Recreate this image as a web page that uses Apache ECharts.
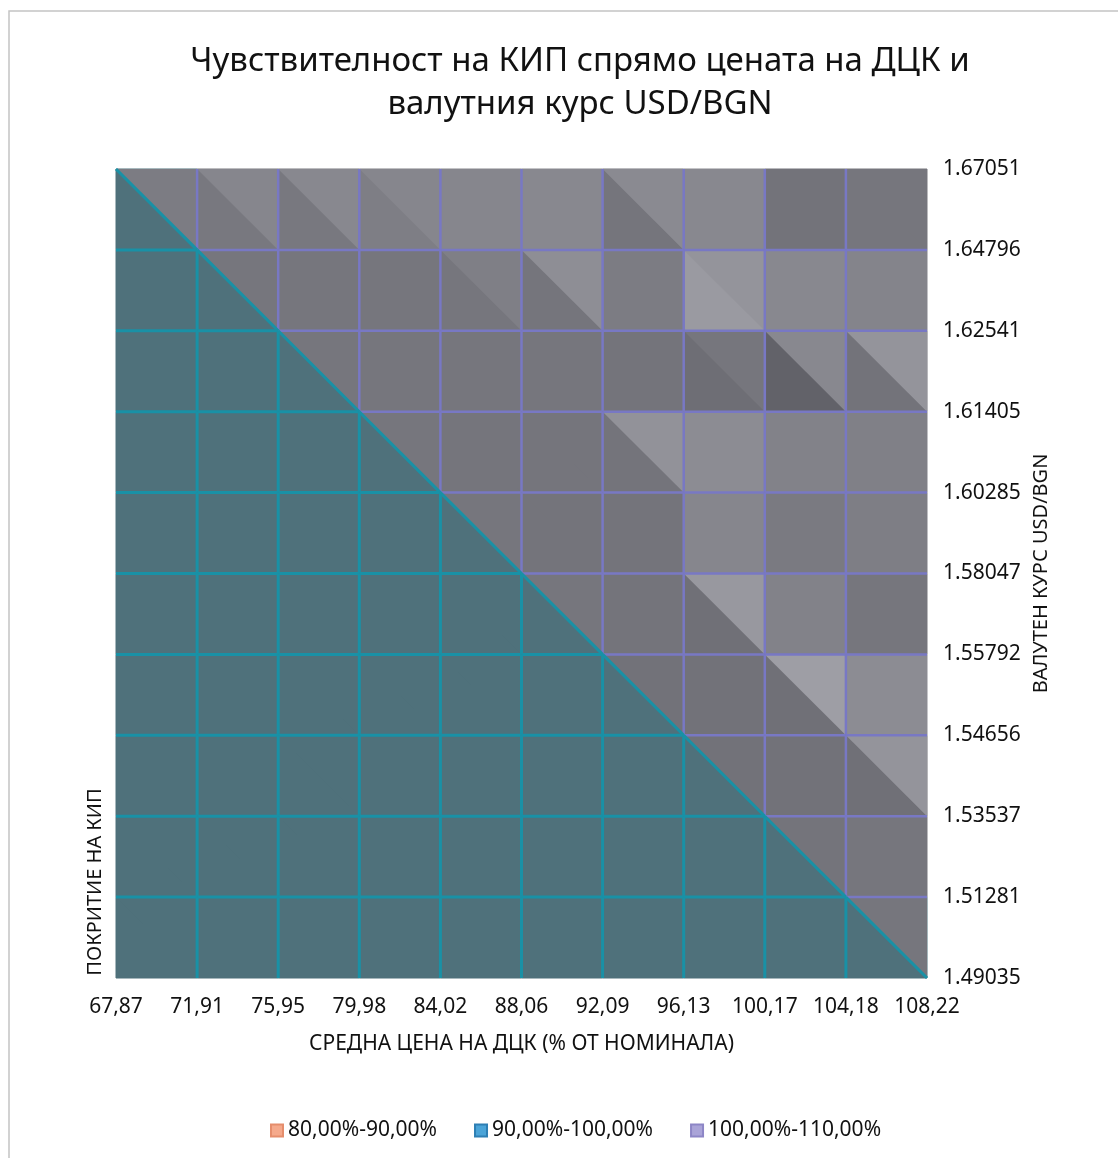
<!DOCTYPE html>
<html>
<head>
<meta charset="utf-8">
<script src="https://cdn.jsdelivr.net/npm/echarts@6/dist/echarts.min.js"></script>
<style>
html,body{margin:0;padding:0;background:#fff;}
#chart{width:1118px;height:1158px;}
</style>
</head>
<body>
<div id="chart"></div>
<script>
// X axis: average price of government securities (% of nominal)
const xLabels = ['67,87','71,91','75,95','79,98','84,02','88,06','92,09','96,13','100,17','104,18','108,22'];
// Y axis: USD/BGN exchange rate, bottom to top
const yLabels = ['1.49035','1.51281','1.53537','1.54656','1.55792','1.58047','1.60285','1.61405','1.62541','1.64796','1.67051'];
// Legend bands
const bandNames = ['80,00%-90,00%','90,00%-100,00%','100,00%-110,00%'];
// Coverage (%) per cell facet, rows from top (1.67051) to bottom, columns left to right
// upper-right facet of each cell
const upperTri = [
  [104.4,105.9,106.3,105.9,105.9,106.3,106.6,106.3,103.0,103.4],
  [95,103.4,103.4,103.4,104.8,107.2,104.4,108.1,106.3,105.6],
  [95,95,103.4,103.4,103.4,103.4,103.1,103.4,106.3,108.1],
  [95,95,95,103.4,103.3,103.3,107.8,106.9,105.3,105.0],
  [95,95,95,95,103.4,103.1,103.1,105.9,104.1,104.7],
  [95,95,95,95,95,103.4,103.1,108.8,105.3,103.4],
  [95,95,95,95,95,95,102.8,102.8,109.7,106.9],
  [95,95,95,95,95,95,95,102.8,102.8,108.1],
  [95,95,95,95,95,95,95,95,103.1,103.4],
  [95,95,95,95,95,95,95,95,95,103.4]
];
// lower-left facet of each cell
const lowerTri = [
  [95,103.8,103.8,104.7,105.9,106.3,103.3,106.3,103.0,103.4],
  [95,95,103.4,103.4,103.4,103.3,104.4,109.1,106.3,105.6],
  [95,95,95,103.4,103.4,103.4,103.1,102.2,100.3,103.0],
  [95,95,95,95,103.3,103.3,103.1,106.9,105.3,105.0],
  [95,95,95,95,95,103.1,103.1,105.9,104.1,104.7],
  [95,95,95,95,95,95,103.1,102.5,105.3,103.4],
  [95,95,95,95,95,95,95,102.8,102.5,106.9],
  [95,95,95,95,95,95,95,95,102.8,102.5],
  [95,95,95,95,95,95,95,95,95,103.4],
  [95,95,95,95,95,95,95,95,95,95]
];

const FONT = 'Noto Sans';
const TXT = '#111111';
const nRows = upperTri.length, nCols = upperTri[0].length;

function band(v){ return v < 90 ? 0 : (v < 100 ? 1 : 2); }
function facetColor(v){
  const b = band(v);
  if (b === 1) return '#4f717b';
  if (b === 0) return '#c98a70';
  const t = Math.max(0, Math.min(1, (v - 100) / 10));
  const L = Math.round(96 + t * 64);
  return 'rgb(' + L + ',' + L + ',' + (L + 7) + ')';
}

const triData = [[],[],[]];
const cellData = [];
for (let r = 0; r < nRows; r++) {
  for (let c = 0; c < nCols; c++) {
    triData[band(lowerTri[r][c])].push([c, r, 1, lowerTri[r][c]]);
    triData[band(upperTri[r][c])].push([c, r, 0, upperTri[r][c]]);
    cellData.push([c, r]);
  }
}

function corners(api, c, r){
  return {
    TL: api.coord([c, nRows - r]),
    TR: api.coord([c + 1, nRows - r]),
    BL: api.coord([c, nRows - 1 - r]),
    BR: api.coord([c + 1, nRows - 1 - r])
  };
}

// lower-left facet is painted as the whole cell, upper-right facet on top of it (no seams)
function triRender(params, api){
  const c = api.value(0), r = api.value(1), part = api.value(2), v = api.value(3);
  const p = corners(api, c, r);
  const col = facetColor(v);
  if (part === 1) {
    return { type: 'polygon', z2: 0, shape: { points: [p.TL, p.TR, p.BR, p.BL] }, style: { fill: col, stroke: col, lineWidth: 1 } };
  }
  return { type: 'polygon', z2: 1, shape: { points: [p.TL, p.TR, p.BR] }, style: { fill: col } };
}

const lineStyles = {
  0: { stroke: '#e0906f', lineWidth: 3, z2: 2 },
  1: { stroke: '#1991a6', lineWidth: 3, z2: 3 },
  2: { stroke: '#7878c4', lineWidth: 2.5, z2: 1 }
};
function seg(a, b, bd){
  const s = lineStyles[bd];
  return { type: 'line', z2: s.z2, shape: { x1: a[0], y1: a[1], x2: b[0], y2: b[1] }, style: { stroke: s.stroke, lineWidth: s.lineWidth } };
}
function wireRender(params, api){
  const c = api.value(0), r = api.value(1);
  const p = corners(api, c, r);
  const ub = band(upperTri[r][c]), lb = band(lowerTri[r][c]);
  const children = [];
  if (r > 0) children.push(seg(p.TL, p.TR, ub));
  if (c > 0) children.push(seg(p.TL, p.BL, lb));
  if (ub !== lb) children.push(seg(p.TL, p.BR, Math.min(ub, lb)));
  return { type: 'group', children };
}

const legendColors = [
  { color: '#f5a98b', borderColor: '#e58d6c' },
  { color: '#4ba4d8', borderColor: '#2e7fb4' },
  { color: '#aaa4d8', borderColor: '#8d86c6' }
];

const chart = echarts.init(document.getElementById('chart'));
chart.setOption({
  backgroundColor: '#fff',
  animation: false,
  title: {
    text: 'Чувствителност на КИП спрямо цената на ДЦК и\nвалутния курс USD/BGN',
    left: 575, top: 35, textAlign: 'center',
    textStyle: { fontFamily: FONT, fontSize: 33, fontWeight: 'normal', color: TXT, lineHeight: 43 }
  },
  grid: { left: 116, right: 191, top: 169, bottom: 180 },
  legend: {
    data: bandNames, top: 1115, left: 265, icon: 'rect',
    itemWidth: 12, itemHeight: 12, itemGap: 37,
    textStyle: { fontFamily: FONT, fontSize: 21, color: TXT }
  },
  xAxis: {
    type: 'category', data: xLabels, boundaryGap: false,
    axisLine: { show: false }, axisTick: { show: false }, splitLine: { show: false },
    axisLabel: { interval: 0, margin: 19, fontFamily: FONT, fontSize: 21, color: TXT },
    name: 'СРЕДНА ЦЕНА НА ДЦК (% ОТ НОМИНАЛА)', nameLocation: 'middle', nameGap: 56,
    nameTextStyle: { fontFamily: FONT, fontSize: 21, color: TXT }
  },
  yAxis: {
    type: 'category', data: yLabels, boundaryGap: false, position: 'right',
    axisLine: { show: false }, axisTick: { show: false }, splitLine: { show: false },
    axisLabel: { interval: 0, margin: 16, fontFamily: FONT, fontSize: 21, color: TXT },
    name: 'ВАЛУТЕН КУРС USD/BGN', nameLocation: 'middle', nameGap: 102, nameRotate: 90,
    nameTextStyle: { fontFamily: FONT, fontSize: 20, color: TXT }
  },
  graphic: [
    { type: 'rect', silent: true, z: -10, shape: { x: 9, y: 11, width: 1200, height: 1200 }, style: { fill: 'none', stroke: '#c4c4c4', lineWidth: 1.5 } },
    { type: 'text', x: 95, y: 882, rotation: Math.PI / 2, style: { text: 'ПОКРИТИЕ НА КИП', fontFamily: FONT, fontSize: 20, fill: TXT, align: 'center', verticalAlign: 'middle' } }
  ],
  series: bandNames.map((name, i) => ({
    name, type: 'custom', renderItem: triRender, data: triData[i],
    encode: { x: 0, y: 1 }, z: 2, silent: true,
    itemStyle: { color: legendColors[i].color, borderColor: legendColors[i].borderColor, borderWidth: 1 }
  })).concat([{
    name: 'wire', type: 'custom', renderItem: wireRender, data: cellData,
    encode: { x: 0, y: 1 }, z: 5, silent: true
  }])
});
</script>
</body>
</html>
